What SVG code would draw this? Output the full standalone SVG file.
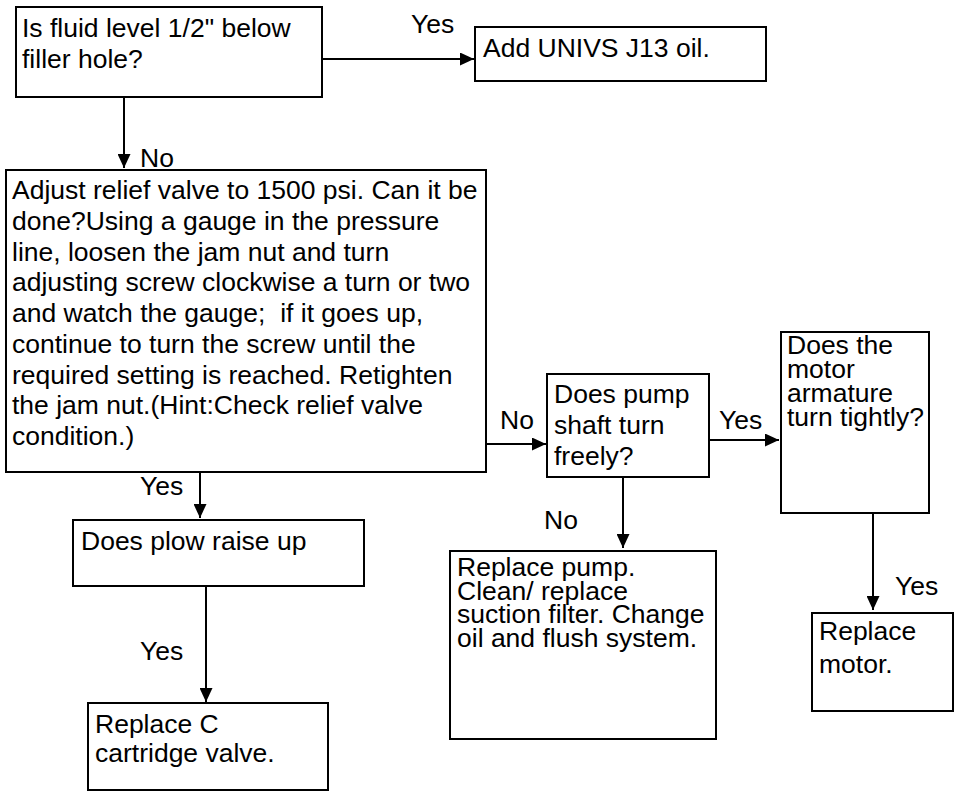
<svg xmlns="http://www.w3.org/2000/svg" width="956" height="793" viewBox="0 0 956 793">
<style>
.box{fill:#fff;stroke:#000;stroke-width:2}
.t{font-family:"Liberation Sans",Arial,sans-serif;font-size:26.5px;fill:#000}
.c{stroke:#000;stroke-width:2;fill:none}
</style>
<defs>
<marker id="ah" markerWidth="14" markerHeight="13" refX="14" refY="6.5" orient="auto" markerUnits="userSpaceOnUse">
<path d="M0,0 L14,6.5 L0,13 Z" fill="#000"/>
</marker>
</defs>
<rect width="956" height="793" fill="#fff"/>
<g id="connectors">
<line class="c" x1="322" y1="59" x2="474" y2="59" marker-end="url(#ah)"/>
<line class="c" x1="124" y1="97" x2="124" y2="168" marker-end="url(#ah)"/>
<line class="c" x1="486" y1="444" x2="546" y2="444" marker-end="url(#ah)"/>
<line class="c" x1="709" y1="440" x2="779" y2="440" marker-end="url(#ah)"/>
<line class="c" x1="623" y1="477" x2="623" y2="548" marker-end="url(#ah)"/>
<line class="c" x1="873" y1="513" x2="873" y2="610" marker-end="url(#ah)"/>
<line class="c" x1="200" y1="472" x2="200" y2="518" marker-end="url(#ah)"/>
<line class="c" x1="206" y1="586" x2="206" y2="702" marker-end="url(#ah)"/>
<text class="t" x="411" y="33">Yes</text>
<text class="t" x="140" y="167">No</text>
<text class="t" x="500" y="429">No</text>
<text class="t" x="719" y="429">Yes</text>
<text class="t" x="544" y="529">No</text>
<text class="t" x="895" y="595">Yes</text>
<text class="t" x="140" y="495">Yes</text>
<text class="t" x="140" y="660">Yes</text>
</g>
<g id="q-fluid">
<rect class="box" x="16" y="7" width="306" height="90"/>
<text class="t" x="22" y="37">Is fluid level 1/2" below<tspan x="22" dy="31">filler hole?</tspan></text>
</g>
<g id="add-oil">
<rect class="box" x="475" y="27" width="291" height="54"/>
<text class="t" x="483" y="57">Add UNIVS J13 oil.</text>
</g>
<g id="adjust-valve">
<rect class="box" x="6" y="170" width="480" height="302"/>
<text class="t" x="12" y="199">Adjust relief valve to 1500 psi. Can it be<tspan x="12" dy="30.75">done?Using a gauge in the pressure</tspan><tspan x="12" dy="30.75">line, loosen the jam nut and turn</tspan><tspan x="12" dy="30.75">adjusting screw clockwise a turn or two</tspan><tspan x="12" dy="30.75" xml:space="preserve">and watch the gauge;  if it goes up,</tspan><tspan x="12" dy="30.75">continue to turn the screw until the</tspan><tspan x="12" dy="30.75">required setting is reached. Retighten</tspan><tspan x="12" dy="30.75">the jam nut.(Hint:Check relief valve</tspan><tspan x="12" dy="30.75">condition.)</tspan></text>
</g>
<g id="q-pump">
<rect class="box" x="547" y="374" width="162" height="103"/>
<text class="t" x="554" y="403">Does pump<tspan x="554" dy="31">shaft turn</tspan><tspan x="554" dy="31">freely?</tspan></text>
</g>
<g id="q-motor">
<rect class="box" x="781" y="332" width="148" height="181"/>
<text class="t" x="787" y="354">Does the<tspan x="787" dy="24">motor</tspan><tspan x="787" dy="24">armature</tspan><tspan x="787" dy="24">turn tightly?</tspan></text>
</g>
<g id="replace-pump">
<rect class="box" x="450" y="551" width="266" height="188"/>
<text class="t" x="457" y="576">Replace pump.<tspan x="457" dy="23.7">Clean/ replace</tspan><tspan x="457" dy="23.7">suction filter. Change</tspan><tspan x="457" dy="23.7">oil and flush system.</tspan></text>
</g>
<g id="replace-motor">
<rect class="box" x="812" y="613" width="141" height="98"/>
<text class="t" x="819" y="640">Replace<tspan x="819" dy="33">motor.</tspan></text>
</g>
<g id="q-plow">
<rect class="box" x="73" y="520" width="291" height="66"/>
<text class="t" x="81" y="550">Does plow raise up</text>
</g>
<g id="replace-cartridge">
<rect class="box" x="88" y="703" width="240" height="87"/>
<text class="t" x="95" y="733">Replace C<tspan x="95" dy="29">cartridge valve.</tspan></text>
</g>
</svg>
